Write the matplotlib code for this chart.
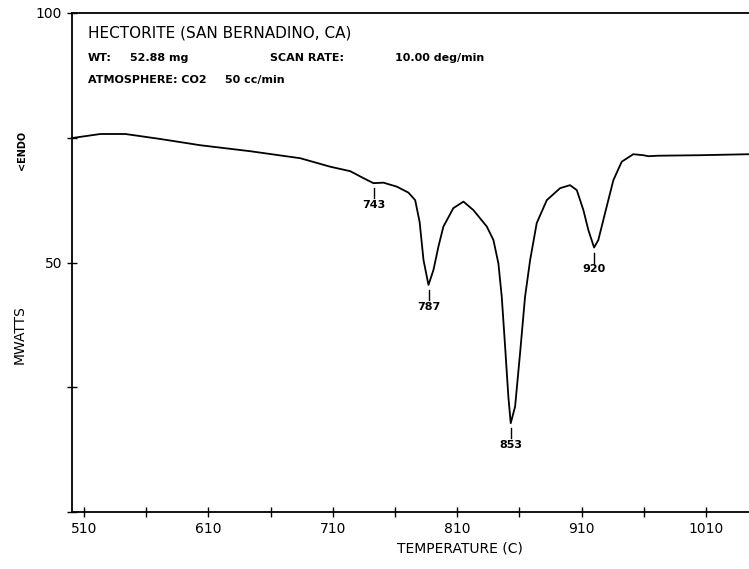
import numpy as np
import matplotlib.pyplot as plt

# DTA trace
temp = [500.7, 523.2, 543.3, 571.4, 603.5, 643.7, 683.8, 707.9, 724.0, 734.7,
        742.7, 750.7, 761.5, 770.8, 776.2, 779.8, 782.9, 786.9, 790.9, 794.9,
        798.9, 806.9, 815.0, 823.0, 833.8, 839.1, 843.1, 845.8, 848.5, 851.1,
        853.0, 856.5, 860.5, 864.5, 868.6, 873.9, 882.0, 892.7, 900.7, 906.1,
        911.4, 915.4, 920.0, 923.4, 928.8, 935.5, 942.2, 951.5, 959.6, 963.6,
        971.6, 1005.0, 1044.5]
mwatts = [74.95, 75.75, 75.75, 74.75, 73.5, 72.3, 70.9, 69.2, 68.3, 66.9,
          65.9, 66.0, 65.2, 64.0, 62.5, 58.1, 50.5, 45.5, 48.5, 53.2,
          57.2, 60.9, 62.2, 60.5, 57.2, 54.5, 49.8, 43.1, 33.1, 23.1,
          17.8, 21.1, 31.8, 43.1, 50.5, 57.9, 62.5, 64.9, 65.5, 64.5,
          60.5, 56.5, 53.0, 54.5, 59.9, 66.5, 70.2, 71.7, 71.5, 71.3,
          71.4, 71.5, 71.7]

peak_t = [743, 787, 853, 920]
peak_y = [65.9, 45.5, 17.8, 53.0]

xticks = [510, 610, 710, 810, 910, 1010]
xminor = [560, 660, 760, 860, 960]

fig = plt.figure(figsize=(7.49, 5.69), dpi=100)
ax = fig.add_axes([72 / 749, 1 - 512 / 569, 1 - 72 / 749, 499 / 569])
ax.plot(temp, mwatts, color='black', lw=1.3)

for t, y in zip(peak_t, peak_y):
    ax.plot([t, t], [y - 1.0, y - 3.0], color='black', lw=1)
    ax.text(t, y - 3.4, str(t), ha='center', va='top', fontsize=8,
            fontweight='bold')

ax.set_xlim(500.4, 1044.5)
ax.set_ylim(0, 100)
ax.set_xticks(xticks)
ax.set_xticks(xminor, minor=True)
ax.set_yticks([0, 25, 50, 75, 100])
ax.set_yticklabels(['', '', '50', '', '100'])
ax.tick_params(direction='inout', length=7, width=1, labelsize=10)
ax.tick_params(which='minor', direction='inout', length=7, width=1)
ax.spines['right'].set_visible(False)
for s in ['left', 'bottom', 'top']:
    ax.spines[s].set_linewidth(1.3)

fig.text(88 / 749, 1 - 33 / 569, 'HECTORITE (SAN BERNADINO, CA)',
         fontsize=11, va='center')
small = dict(fontsize=8, fontweight='bold', va='center')
fig.text(88 / 749, 1 - 58 / 569, 'WT:', **small)
fig.text(130 / 749, 1 - 58 / 569, '52.88 mg', **small)
fig.text(270 / 749, 1 - 58 / 569, 'SCAN RATE:', **small)
fig.text(395 / 749, 1 - 58 / 569, '10.00 deg/min', **small)
fig.text(88 / 749, 1 - 80 / 569, 'ATMOSPHERE: CO2', **small)
fig.text(225 / 749, 1 - 80 / 569, '50 cc/min', **small)

fig.text(460 / 749, 1 - 548 / 569, 'TEMPERATURE (C)', fontsize=10, ha='center', va='center')
fig.text(20 / 749, 1 - 335 / 569, 'MWATTS', fontsize=10, rotation=90,
         ha='center', va='center')
fig.text(22 / 749, 1 - 150 / 569, '<ENDO', fontsize=7, fontweight='bold',
         rotation=90, ha='center', va='center')

fig.savefig('out.png', dpi=100)
